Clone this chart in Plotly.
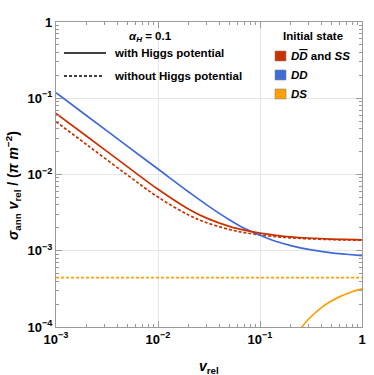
import plotly.graph_objects as go

# velocities at which curves were read
v_main = [1e-3, 2e-3, 5e-3, 1e-2, 2e-2, 3e-2, 5e-2, 7e-2, 0.1, 0.15, 0.2, 0.3, 0.5, 0.7, 1.0]
# D Dbar and SS, with Higgs potential (solid red)
ddbar_with = [0.0634, 0.0317, 0.01268, 0.0064, 0.00351, 0.00268, 0.00209, 0.001863, 0.0017,
              0.001583, 0.001525, 0.001469, 0.001424, 0.001406, 0.001392]
# D Dbar and SS, without Higgs potential (dotted red)
ddbar_without = [0.0493, 0.02464, 0.00986, 0.00506, 0.002937, 0.002334, 0.001902, 0.001732, 0.001611,
                 0.00152, 0.001477, 0.001434, 0.0014, 0.001385, 0.001375]
# DD, with Higgs potential (solid blue)
dd_with = [0.118, 0.059, 0.0236, 0.0118, 0.0059, 0.0040, 0.00255, 0.00197, 0.0016,
           0.0013, 0.00117, 0.00104, 0.00094, 0.0009, 0.000861]
# DS without Higgs potential (dotted orange, constant)
v_ds_flat = [1e-3, 1.0]
ds_without = [4.44e-4, 4.44e-4]
# DS with Higgs potential (solid orange)
v_ds = [0.2, 0.25, 0.3, 0.4, 0.5, 0.6, 0.7, 0.8, 0.9, 1.0]
ds_with = [6.0e-5, 9.5e-5, 1.273e-4, 1.797e-4, 2.19e-4, 2.485e-4, 2.715e-4, 2.898e-4, 3.047e-4, 3.17e-4]

RED = "#C83200"
BLUE = "#3F6AD8"
ORANGE = "#FF9F00"
LW = 1.7

fig = go.Figure()
fig.add_trace(go.Scatter(x=v_ds_flat, y=ds_without, mode="lines",
                         line=dict(color=ORANGE, width=LW, dash="3px,2px")))
fig.add_trace(go.Scatter(x=v_ds, y=ds_with, mode="lines",
                         line=dict(color=ORANGE, width=LW, shape="spline")))
fig.add_trace(go.Scatter(x=v_main, y=ddbar_without, mode="lines",
                         line=dict(color=RED, width=LW, dash="3px,2px", shape="spline")))
fig.add_trace(go.Scatter(x=v_main, y=dd_with, mode="lines",
                         line=dict(color=BLUE, width=LW, shape="spline")))
fig.add_trace(go.Scatter(x=v_main, y=ddbar_with, mode="lines",
                         line=dict(color=RED, width=LW, shape="spline")))

W, H = 374, 375
PL, PT, PR, PB = 56, 22, 362, 327  # plot area in pixels
PW, PH = PR - PL, PB - PT


def px(x):
    return (x - PL) / PW


def py(y):
    return (PB - y) / PH


FONT = "Liberation Sans, Arial, sans-serif"
tickfont = dict(family=FONT, size=13, color="black")

axis_common = dict(
    type="log", showline=True, linecolor="#9a9a9a", linewidth=1.2, automargin=False,
    mirror="allticks", ticks="inside", ticklen=6, tickcolor="#9a9a9a", tickwidth=1,
    showgrid=True, gridcolor="#e6e6e6", gridwidth=1, zeroline=False,
    tickfont=tickfont,
    minor=dict(ticks="inside", ticklen=3, tickcolor="#9a9a9a", dtick="D1", showgrid=False),
)

x_tickvals = [1e-3, 1e-2, 1e-1, 1]
x_ticktext = ["<b>10<sup>−3</sup></b>", "<b>10<sup>−2</sup></b>", "<b>10<sup>−1</sup></b>", "<b>1</b>"]
y_tickvals = [1e-4, 1e-3, 1e-2, 1e-1, 1]
y_ticktext = ["<b>10<sup>−4</sup></b>", "<b>10<sup>−3</sup></b>", "<b>10<sup>−2</sup></b>",
              "<b>10<sup>−1</sup></b>", "<b>1</b>"]

fig.update_xaxes(range=[-3, 0], tickvals=x_tickvals, ticktext=x_ticktext, **axis_common)
fig.update_yaxes(range=[-4, 0], tickvals=y_tickvals, ticktext=y_ticktext, **axis_common)


def note(xp, yp, text, font, xanchor="center", **kw):
    return dict(x=px(xp), y=py(yp), xref="paper", yref="paper", text=text, showarrow=False,
                xanchor=xanchor, yanchor="middle", font=font, **kw)


big = dict(family=FONT, size=14, color="black")
lf = dict(family=FONT, size=11.5, color="black")
ann = [
    note(13, 186, "<b><i>σ</i><sub>ann</sub> <i>v</i><sub>rel</sub> / (<i>π</i> <i>m</i><sup>−2</sup>)</b>",
         big, textangle=-90),
    note(209, 367, "<b><i>v</i><sub>rel</sub></b>", big),
    note(150, 37, "<b><i>α</i><sub><i>H</i></sub> = 0.1</b>", lf),
    note(112, 53, "<b>with Higgs potential</b>", lf, xanchor="left"),
    note(112, 76, "<b>without Higgs potential</b>", lf, xanchor="left"),
    note(313, 36, "<b>Initial state</b>", lf),
    note(289, 56, "<b><i>D</i><i><span style=\"text-decoration:overline\">D</span></i> and <i>SS</i></b>",
         lf, xanchor="left"),
    note(289, 75, "<b><i>DD</i></b>", lf, xanchor="left"),
    note(289, 94, "<b><i>DS</i></b>", lf, xanchor="left"),
]

shapes = []
shapes.append(dict(type="line", xref="paper", yref="paper", x0=px(64), x1=px(106), y0=py(53), y1=py(53),
                   line=dict(color="black", width=1.7)))
shapes.append(dict(type="line", xref="paper", yref="paper", x0=px(64), x1=px(104), y0=py(76), y1=py(76),
                   line=dict(color="black", width=1.7, dash="3px,2px")))
for yc, col in [(56, RED), (75, BLUE), (94, ORANGE)]:
    shapes.append(dict(type="rect", xref="paper", yref="paper", x0=px(275), x1=px(286),
                       y0=py(yc + 5), y1=py(yc - 5), fillcolor=col,
                       line=dict(color="#888888", width=0.6)))

fig.update_layout(
    width=W, height=H,
    margin=dict(l=PL, r=W - PR, t=PT, b=H - PB, autoexpand=False),
    paper_bgcolor="white", plot_bgcolor="white", showlegend=False,
    annotations=ann, shapes=shapes,
)

fig.write_html("out.html", config={"displayModeBar": False},
               post_script="document.body.style.margin='0';document.body.style.overflow='hidden';")
